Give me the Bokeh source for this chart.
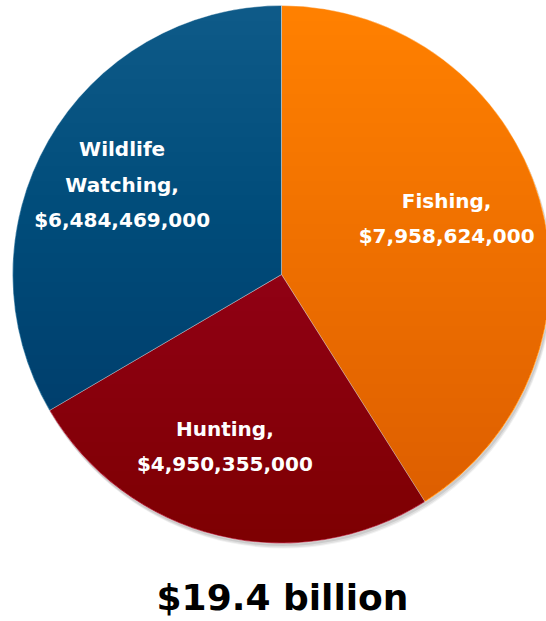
import math
import numpy as np
from bokeh.plotting import figure
from bokeh.models import Range1d, ColumnDataSource
from bokeh.core.properties import value
from bokeh.embed import file_html
from bokeh.resources import INLINE

# ---- data ----
categories = ["Fishing", "Hunting", "Wildlife Watching"]
label_lines = ["Fishing,", "Hunting,", "Wildlife\nWatching,"]
amounts = [7958624000, 4950355000, 6484469000]
total_label = "$19.4 billion"

# ---- styling ----
colors = ["#FF8000", "#A21426", "#0E5A88"]
W, H = 546, 621
cx, cy, R = 281, 347, 269
label_frac = 0.67
label_nudge = [(-8, 6), (-14, 3), (-3, 0)]  # small pixel nudges for label boxes
shade_steps, shade_total = 36, 0.19

total = sum(amounts)
starts, ends, mids = [], [], []
cum = 0.0
for a in amounts:
    s = math.pi / 2 - 2 * math.pi * cum / total
    cum += a
    e = math.pi / 2 - 2 * math.pi * cum / total
    starts.append(s)
    ends.append(e)
    mids.append((s + e) / 2)

texts = [f"{l}\n${a:,}" for l, a in zip(label_lines, amounts)]
lx = [cx + label_frac * R * math.cos(m) + d[0] for m, d in zip(mids, label_nudge)]
ly = [cy + label_frac * R * math.sin(m) + d[1] for m, d in zip(mids, label_nudge)]

src = ColumnDataSource(dict(cat=categories, amt=amounts, start=starts, end=ends,
                            color=colors, text=texts, lx=lx, ly=ly,
                            x=[cx] * 3, y=[cy] * 3))

p = figure(width=W, height=H, output_backend="svg", toolbar_location=None,
           x_range=Range1d(0, W), y_range=Range1d(0, H), min_border=0)
p.axis.visible = False
p.grid.visible = False
p.outline_line_color = None
p.background_fill_color = "white"
p.border_fill_color = "white"

# soft shadow
for off, alpha in [(5, 0.05), (4, 0.07), (2.5, 0.09)]:
    p.circle(x=[cx + off * 0.5], y=[cy - off], radius=R, fill_color="black",
             fill_alpha=alpha, line_color=None)

p.wedge(x="x", y="y", radius=R, start_angle="start", end_angle="end",
        direction="clock", fill_color="color", line_color="white", line_width=0.4,
        source=src)

# vertical shading: nested circle segments below successive chords (darker toward the bottom)
delta = 1 - (1 - shade_total) ** (1 / shade_steps)
rr = R - 0.6
xs, ys = [], []
for k in range(1, shade_steps + 1):
    yk = cy + rr - 2 * rr * k / (shade_steps + 1)
    phi = math.asin((yk - cy) / rr)
    t = np.linspace(phi, -math.pi - phi, 80)
    xs.append(list(cx + rr * np.cos(t)))
    ys.append(list(cy + rr * np.sin(t)))
p.patches(xs=xs, ys=ys, fill_color="black", fill_alpha=delta, line_color=None)

p.text(x="lx", y="ly", text="text", source=src, text_align="center",
       text_baseline="middle", text_color="white", text_font=value("DejaVu Sans"),
       text_font_style="bold", text_font_size="20px", text_line_height=1.48)

p.text(x=[cx + 1], y=[H - 597], text=[total_label], text_align="center",
       text_baseline="middle", text_color="black", text_font=value("DejaVu Sans"),
       text_font_style="bold", text_font_size="36px")

open("out.html", "w").write(file_html(p, INLINE))
